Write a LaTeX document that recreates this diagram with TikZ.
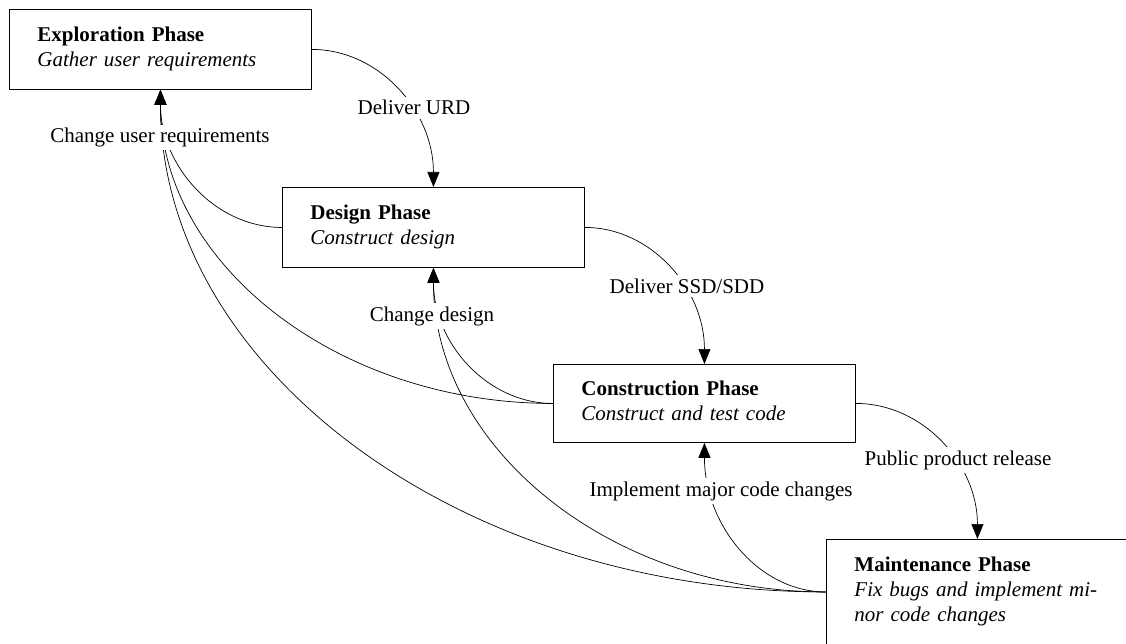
\documentclass[tikz,border=0pt]{standalone}
\usepackage{fontspec}
\setmainfont{Liberation Serif}
\usetikzlibrary{calc,arrows.meta}
\newcommand{\lstrut}{\rule[-8pt]{0pt}{25pt}}
\begin{document}
\begin{tikzpicture}[x=1pt,y=-1pt,
  font=\fontsize{21}{25}\selectfont,
  phase/.style={draw,line width=0.9pt,rectangle,anchor=north west,align=left,
    text width=246pt,inner xsep=28pt,inner ysep=0pt,minimum height=80pt},
  lbl/.style={fill=white,inner sep=0.3333em,anchor=base},
  flow/.style={line width=0.7pt,-{Triangle[length=15pt,width=12pt]},
    to path={.. controls ($(\tikztostart)!0.5523!(\tikztostart -| \tikztotarget)$)
      and ($(\tikztotarget)!0.5523!(\tikztostart -| \tikztotarget)$) .. (\tikztotarget) \tikztonodes}}]
\useasboundingbox (0,0) rectangle (1126,644);
\clip (0,0) rectangle (1126,644);
% phases
\node[phase] (exp) at (9,9) {\lstrut\textbf{Exploration Phase}\\\textit{Gather user requirements}\lstrut};
\node[phase] (des) at (282,187) {\lstrut\textbf{Design Phase}\\\textit{Construct design}\lstrut};
\node[phase,minimum height=78pt] (con) at (553,364) {\lstrut\textbf{Construction Phase}\\\textit{Construct and test code}\lstrut};
\node[phase,minimum height=105pt] (mnt) at (826,539) {\lstrut\textbf{Maintenance Phase}\\\textit{Fix bugs and implement mi-}\\\textit{nor code changes}\lstrut};
% forward flows
\draw[flow] (exp.east) to (des.north);
\draw[flow] (des.east) to (con.north);
\draw[flow] (con.east) to (mnt.north);
% backward flows
\draw[flow] (des.west) to (exp.south);
\draw[flow] (con.west) to (exp.south);
\draw[flow] (mnt.west) to (exp.south);
\draw[flow] (con.west) to (des.south);
\draw[flow] (mnt.west) to (des.south);
\draw[flow] (mnt.west) to (con.south);
% labels
\node[lbl] (lurd) at (414,115) {Deliver URD};
\node[lbl] (lssd) at (687,293) {Deliver SSD/SDD};
\node[lbl] (lpub) at (958,465) {Public product release};
\node[lbl] (lcur) at (160,142.5) {Change user requirements};
\node[lbl] (lcd) at (432,321) {Change design};
\node[lbl] (limc) at (721,496) {Implement major code changes};
\end{tikzpicture}
\end{document}
